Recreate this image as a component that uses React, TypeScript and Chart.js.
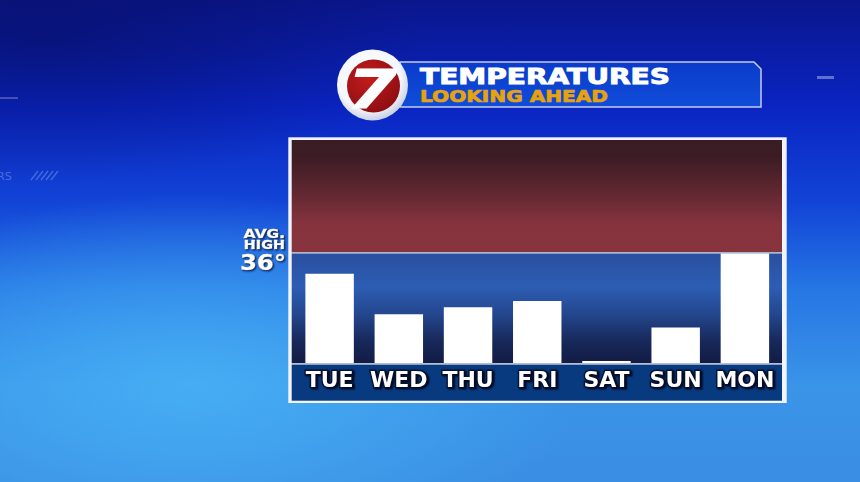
import React, { useEffect, useRef } from "react";
import { Chart, registerables } from "chart.js";

Chart.register(...registerables);

// ---- data ----
const DAYS = ["TUE", "WED", "THU", "FRI", "SAT", "SUN", "MON"];
const HIGHS = [33.1, 27.3, 28.3, 29.2, 20.6, 25.4, 36];
const AVG_HIGH = 36;
const Y_MIN = 20.3;
const Y_MAX = 52.3;
const TITLE = "TEMPERATURES";
const SUBTITLE = "LOOKING AHEAD";
const AVG_LABEL = ["AVG.", "HIGH"];
const LOGO_TEXT = "7";

const FONT = '"DejaVu Sans", "Liberation Sans", sans-serif';

function drawScaled(ctx: CanvasRenderingContext2D, text: string, x: number, y: number, sx: number) {
  ctx.save();
  ctx.translate(x, y);
  ctx.scale(sx, 1);
  ctx.strokeText(text, 0, 0);
  ctx.fillText(text, 0, 0);
  ctx.restore();
}

const panelsPlugin = {
  id: "panels",
  beforeDraw(chart: any) {
    const { ctx, chartArea: a, scales } = chart;
    const div = scales.y.getPixelForValue(AVG_HIGH);
    const L = a.left - 3.3;
    const R = a.right + 2.5;
    const T = a.top;
    const B = a.bottom;
    ctx.save();
    // white frame
    ctx.fillStyle = "#f2f4fa";
    ctx.fillRect(L - 3.4, T - 2.7, R + 4.7 - (L - 3.4), B + 40 - (T - 2.7));
    // red zone above average
    const g1 = ctx.createLinearGradient(0, T, 0, div - 1.5);
    g1.addColorStop(0, "#3a1d24");
    g1.addColorStop(0.15, "#3c1c24");
    g1.addColorStop(0.45, "#5f2730");
    g1.addColorStop(0.75, "#86333e");
    g1.addColorStop(1, "#88343f");
    ctx.fillStyle = g1;
    ctx.fillRect(L, T, R - L, div - 1.5 - T);
    ctx.fillStyle = "#a9b0c8";
    ctx.fillRect(L, div - 1.5, R - L, 1.5);
    // blue zone
    const g2 = ctx.createLinearGradient(0, div, 0, B);
    g2.addColorStop(0, "#2a4f9f");
    g2.addColorStop(0.3, "#2d5db4");
    g2.addColorStop(0.55, "#24478f");
    g2.addColorStop(0.8, "#17285a");
    g2.addColorStop(1, "#131c44");
    ctx.fillStyle = g2;
    ctx.fillRect(L, div, R - L, B - div);
    // label band
    ctx.fillStyle = "#b4bed6";
    ctx.fillRect(L, B, R - L, 1.7);
    ctx.fillStyle = "#083a80";
    ctx.fillRect(L, B + 1.7, R - L, 36);
    ctx.restore();
    // drop shadow for the axis labels drawn next
    ctx.shadowColor = "rgba(3,10,35,0.95)";
    ctx.shadowBlur = 1.5;
    ctx.shadowOffsetX = 1.5;
    ctx.shadowOffsetY = 1.5;
  },
  beforeDatasetsDraw(chart: any) {
    const ctx = chart.ctx;
    ctx.shadowColor = "rgba(0,0,0,0)";
    ctx.shadowBlur = 0;
    ctx.shadowOffsetX = 0;
    ctx.shadowOffsetY = 0;
  },
  afterDraw(chart: any) {
    const { ctx, chartArea: a, scales } = chart;
    const div = scales.y.getPixelForValue(AVG_HIGH);
    const x = a.left - 10;
    ctx.save();
    ctx.textAlign = "left";
    ctx.textBaseline = "alphabetic";
    ctx.fillStyle = "#ffffff";
    ctx.strokeStyle = "#ffffff";
    ctx.lineWidth = 0.6;
    ctx.shadowColor = "rgba(5,15,50,0.85)";
    ctx.shadowBlur = 2;
    ctx.shadowOffsetX = 1;
    ctx.shadowOffsetY = 1;
    const sx = 1.28;
    ctx.font = `bold 12px ${FONT}`;
    let w = ctx.measureText(AVG_LABEL[0]).width * sx;
    drawScaled(ctx, AVG_LABEL[0], x - w, div - 16, sx);
    w = ctx.measureText(AVG_LABEL[1]).width * 1.2;
    drawScaled(ctx, AVG_LABEL[1], x - w, div - 4.5, 1.2);
    ctx.font = `bold 21px ${FONT}`;
    const t = `${AVG_HIGH}°`;
    w = ctx.measureText(t).width * 1.15;
    drawScaled(ctx, t, x + 1 - w, div + 16.5, 1.15);
    ctx.restore();
  },
};

function TempChart() {
  const ref = useRef<HTMLCanvasElement | null>(null);
  useEffect(() => {
    if (!ref.current) return;
    const chart = new Chart(ref.current, {
      type: "bar",
      data: {
        labels: DAYS,
        datasets: [
          {
            data: HIGHS,
            backgroundColor: "#ffffff",
            borderWidth: 0,
            barPercentage: 0.7,
            categoryPercentage: 1,
          },
        ],
      },
      options: {
        animation: false,
        responsive: false,
        devicePixelRatio: 1,
        layout: { padding: { left: 295, right: 80.5, top: 140, bottom: 83 } },
        plugins: { legend: { display: false }, tooltip: { enabled: false }, title: { display: false } },
        scales: {
          y: { display: false, min: Y_MIN, max: Y_MAX },
          x: {
            border: { display: false },
            grid: { display: false, drawTicks: false, tickLength: 0 },
            ticks: {
              color: "#ffffff",
              font: { family: FONT, size: 22, weight: "bold", lineHeight: 1 },
              padding: 7,
              autoSkip: false,
              maxRotation: 0,
              minRotation: 0,
              textStrokeColor: "#0a1431",
              textStrokeWidth: 3,
            },
          },
        },
      },
      plugins: [panelsPlugin],
    } as any);
    return () => chart.destroy();
  }, []);
  return (
    <canvas
      ref={ref}
      width={860}
      height={482}
      style={{ position: "absolute", left: 0, top: 0, width: 860, height: 482 }}
    />
  );
}

function Header() {
  return (
    <svg
      width={860}
      height={482}
      style={{ position: "absolute", left: 0, top: 0 }}
      xmlns="http://www.w3.org/2000/svg"
    >
      <defs>
        <linearGradient id="ban" x1="0" y1="0" x2="0" y2="1">
          <stop offset="0" stopColor="#0a3bcb" />
          <stop offset="1" stopColor="#0f4dd9" />
        </linearGradient>
        <radialGradient id="ring" cx="0.45" cy="0.4" r="0.6">
          <stop offset="0" stopColor="#ffffff" />
          <stop offset="0.75" stopColor="#f4f6fb" />
          <stop offset="1" stopColor="#c9d0e4" />
        </radialGradient>
        <radialGradient id="red" cx="0.4" cy="0.35" r="0.7">
          <stop offset="0" stopColor="#c41c1c" />
          <stop offset="1" stopColor="#8c0d12" />
        </radialGradient>
      </defs>
      {/* faint background decorations */}
      <text x={-3} y={180} fill="rgba(190,210,255,0.35)" fontFamily={FONT} fontSize={11}>RS</text>
      <rect x={817} y={76} width={17} height={3} fill="rgba(200,210,240,0.45)" />
      <rect x={0} y={97} width={18} height={2} fill="rgba(200,210,240,0.3)" />
      {[0, 1, 2, 3, 4].map((i) => (
        <line key={i} x1={31 + i * 5} y1={180} x2={38 + i * 5} y2={171} stroke="rgba(170,200,255,0.35)" strokeWidth={1.3} />
      ))}
      <polygon
        points="400,62 754,62 761,69 761,107 400,107"
        fill="url(#ban)"
        stroke="#c3cbe6"
        strokeWidth={1.5}
      />
      <text
        x={420}
        y={83.5}
        fill="#ffffff"
        stroke="#ffffff"
        strokeWidth={0.9}
        fontFamily={FONT}
        fontWeight="bold"
        fontSize={21}
        textLength={250}
        lengthAdjust="spacingAndGlyphs"
      >
        {TITLE}
      </text>
      <text
        x={420}
        y={102}
        fill="#e6a20f"
        stroke="#e6a20f"
        strokeWidth={0.7}
        fontFamily={FONT}
        fontWeight="bold"
        fontSize={16.5}
        textLength={188}
        lengthAdjust="spacingAndGlyphs"
      >
        {SUBTITLE}
      </text>
      <circle cx={372.5} cy={85} r={35.5} fill="url(#ring)" />
      <circle cx={373.5} cy={86} r={26.5} fill="url(#red)" />
      <text
        x={347}
        y={107.5}
        fill="#ffffff"
        stroke="#ffffff"
        strokeWidth={1}
        fontFamily={FONT}
        fontWeight="bold"
        fontStyle="italic"
        fontSize={53}
        textLength={50}
        lengthAdjust="spacingAndGlyphs"
      >
        {LOGO_TEXT}
      </text>
    </svg>
  );
}

export default function App() {
  useEffect(() => {
    document.body.style.margin = "0";
  }, []);
  return (
    <div
      style={{
        position: "relative",
        width: 860,
        height: 482,
        overflow: "hidden",
        background:
          "radial-gradient(ellipse 45% 40% at 22% 80%, rgba(72,178,246,0.85) 0%, rgba(72,178,246,0) 100%)," +
          "radial-gradient(ellipse 45% 30% at 5% 8%, rgba(5,10,80,0.45) 0%, rgba(5,10,80,0) 100%)," +
          "linear-gradient(180deg, #0a168c 0%, #0a24c2 22%, #1244d6 42%, #2676e4 60%, #3a94e8 80%, #3a8ee3 100%)",
      }}
    >
      <Header />
      <TempChart />
    </div>
  );
}
